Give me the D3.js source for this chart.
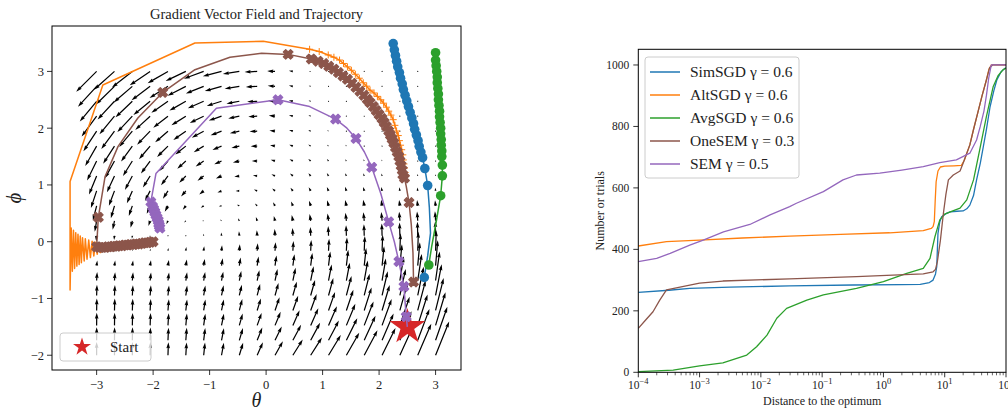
<!DOCTYPE html>
<html><head><meta charset="utf-8">
<script src="https://cdn.jsdelivr.net/npm/d3@7"></script>
<style>
body{margin:0;background:#fff;}
text{font-family:"Liberation Serif","DejaVu Serif",serif;fill:#222;}
</style>
</head><body>
<svg id="c" width="1008" height="410"></svg>
<script>
// ---------------- LEFT PANEL DATA ----------------
const thetaGrid = [-3,-2.684,-2.368,-2.053,-1.737,-1.421,-1.105,-0.789,-0.474,-0.158,0.158,0.474,0.789,1.105,1.421,1.737,2.053,2.368,2.684,3];
const phiGrid = [-2,-1.737,-1.474,-1.211,-0.947,-0.684,-0.421,-0.158,0.105,0.368,0.632,0.895,1.158,1.421,1.684,1.947,2.211,2.474,2.737,3];
const fieldParam = 2; // game gradient field parameter (optimum at theta=-2, phi=0)
function gradientField(t, p) {
  const s = 1 / (1 + Math.exp(t * p));
  return [-p * s, fieldParam / (1 + Math.exp(fieldParam * p)) + t * s];
}
const thetaTicks = [-3,-2,-1,0,1,2,3];
const phiTicks = [-2,-1,0,1,2,3];
const startPoint = [2.5, -1.5];

// trajectories: [theta, phi, marker?]
const simSGDTraj = [[2.80,-0.63,1],[2.86,-0.25,0],[2.91,0.15,0],[2.89,0.60,0],[2.86,0.99,1],[2.81,1.29,1],[2.77,1.48,1],[2.74,1.58,1],[2.71,1.68,1],[2.69,1.78,1],[2.66,1.88,1],[2.63,1.98,1],[2.61,2.08,1],[2.58,2.18,1],[2.55,2.28,1],[2.52,2.38,1],[2.49,2.48,1],[2.46,2.58,1],[2.43,2.68,1],[2.41,2.78,1],[2.38,2.88,1],[2.36,2.98,1],[2.33,3.08,1],[2.31,3.18,1],[2.29,3.28,1],[2.27,3.38,1],[2.25,3.49,1]];
const altSGDTraj = [[2.47,1.15,1],[2.46,1.22,1],[2.45,1.30,1],[2.44,1.37,1],[2.43,1.44,1],[2.42,1.53,1],[2.40,1.62,1],[2.38,1.70,1],[2.36,1.78,1],[2.34,1.87,1],[2.31,1.95,1],[2.28,2.05,1],[2.25,2.15,1],[2.21,2.23,1],[2.17,2.30,1],[2.13,2.37,1],[2.08,2.44,1],[2.03,2.50,1],[1.97,2.56,1],[1.91,2.62,1],[1.84,2.67,1],[1.78,2.74,1],[1.72,2.80,1],[1.65,2.88,1],[1.58,2.95,1],[1.51,3.02,1],[1.44,3.08,1],[1.37,3.14,1],[1.30,3.20,1],[1.20,3.25,1],[1.10,3.29,1],[0.94,3.35,1],[0.77,3.39,1],[-0.05,3.53,0],[-1.26,3.50,0],[-2.89,2.76,0],[-3.47,1.06,0],[-3.47,-0.85,0],[-3.45,0.24,0],[-3.43,-0.52,0],[-3.41,0.20,0],[-3.39,-0.47,0],[-3.37,0.16,0],[-3.35,-0.43,0],[-3.33,0.13,0],[-3.31,-0.40,0],[-3.29,0.10,0],[-3.27,-0.37,0],[-3.25,0.07,0],[-3.22,-0.34,0],[-3.20,0.05,0],[-3.17,-0.31,0],[-3.14,0.03,0],[-3.11,-0.28,0],[-3.08,0.01,0],[-3.05,-0.25,0],[-3.02,-0.01,0],[-2.99,-0.22,0],[-2.96,-0.03,0],[-2.93,-0.19,0],[-2.90,-0.05,0],[-2.87,-0.16,0]];
const avgSGDTraj = [[2.88,-0.41,1],[2.93,-0.09,0],[3.02,0.40,0],[3.09,0.81,1],[3.12,1.16,1],[3.12,1.35,1],[3.11,1.50,1],[3.11,1.60,1],[3.10,1.70,1],[3.10,1.80,1],[3.09,1.90,1],[3.09,2.00,1],[3.08,2.10,1],[3.07,2.20,1],[3.07,2.30,1],[3.06,2.40,1],[3.05,2.50,1],[3.05,2.60,1],[3.04,2.70,1],[3.03,2.80,1],[3.03,2.90,1],[3.02,3.00,1],[3.01,3.10,1],[3.00,3.20,1],[3.00,3.33,1]];
const oneSEMTraj = [[2.61,-0.71,1],[2.60,-0.20,0],[2.57,0.30,0],[2.53,0.69,1],[2.48,0.98,0],[2.45,1.12,1],[2.42,1.18,1],[2.41,1.26,1],[2.39,1.34,1],[2.37,1.42,1],[2.35,1.50,1],[2.32,1.58,1],[2.29,1.66,1],[2.26,1.74,1],[2.23,1.81,1],[2.20,1.88,1],[2.17,1.95,1],[2.13,2.03,1],[2.09,2.10,1],[2.05,2.17,1],[2.00,2.24,1],[1.95,2.31,1],[1.90,2.38,1],[1.84,2.45,1],[1.79,2.51,1],[1.73,2.58,1],[1.66,2.65,1],[1.59,2.72,1],[1.52,2.79,1],[1.44,2.86,1],[1.36,2.92,1],[1.28,2.98,1],[1.20,3.04,1],[1.11,3.09,1],[1.02,3.14,1],[0.92,3.18,1],[0.80,3.22,1],[0.39,3.30,1],[-0.08,3.32,0],[-0.64,3.25,0],[-1.26,3.03,0],[-1.83,2.63,1],[-2.27,2.18,0],[-2.62,1.68,0],[-2.85,1.15,0],[-2.97,0.43,1],[-3.00,-0.09,1],[-2.95,-0.10,1],[-2.90,-0.10,1],[-2.85,-0.10,1],[-2.80,-0.09,1],[-2.75,-0.09,1],[-2.70,-0.08,1],[-2.65,-0.08,1],[-2.60,-0.07,1],[-2.55,-0.07,1],[-2.50,-0.06,1],[-2.45,-0.06,1],[-2.40,-0.05,1],[-2.35,-0.05,1],[-2.30,-0.04,1],[-2.25,-0.04,1],[-2.20,-0.03,1],[-2.15,-0.02,1],[-2.10,-0.02,1],[-2.05,-0.01,1],[-2.00,0.00,1]];
const semTraj = [[2.50,-1.50,0],[2.48,-1.32,1],[2.44,-0.79,1],[2.35,-0.35,1],[2.27,0.0,0],[2.17,0.35,1],[2.03,0.85,0],[1.87,1.31,1],[1.74,1.58,0],[1.59,1.82,1],[1.42,2.01,0],[1.23,2.16,1],[0.77,2.38,0],[0.21,2.50,1],[-0.88,2.35,0],[-1.95,1.20,0],[-2.04,0.70,1],[-2.01,0.62,1],[-1.99,0.57,1],[-1.97,0.52,1],[-1.95,0.47,1],[-1.93,0.42,1],[-1.91,0.37,1],[-1.90,0.32,1],[-1.89,0.28,1],[-1.88,0.24,1]];

// ---------------- RIGHT PANEL DATA ----------------
// [log10(distance), number of trials]
const simSGDCurve = [[-4,260],[-3.5,267],[-3.16,273],[-2.5,277],[-1.53,281],[-0.5,284],[0.3,285],[0.6,286],[0.75,292],[0.81,300],[0.85,320],[0.87,344],[0.89,452],[0.92,490],[0.95,506],[1.02,516],[1.09,522],[1.2,524],[1.3,525],[1.36,532],[1.41,544],[1.47,575],[1.52,626],[1.58,680],[1.63,734],[1.68,790],[1.74,864],[1.80,915],[1.85,951],[1.92,978],[1.98,989],[2,990]];
const altSGDCurve = [[-4,411],[-3.54,425],[-3,430],[-2.3,437],[-1.53,443],[-0.7,449],[0.1,454],[0.65,461],[0.78,468],[0.81,474],[0.83,490],[0.845,560],[0.86,620],[0.89,655],[0.93,668],[1.0,671],[1.15,672],[1.27,673],[1.32,690],[1.41,740],[1.47,790],[1.54,845],[1.61,900],[1.68,951],[1.72,985],[1.76,1000],[2,1000]];
const avgSGDCurve = [[-4,2],[-3.43,7],[-3,21],[-2.62,31],[-2.23,56],[-2.07,83],[-1.9,121],[-1.74,176],[-1.58,208],[-1.25,235],[-0.98,252],[-0.44,273],[0,295],[0.38,322],[0.65,338],[0.76,371],[0.84,441],[0.92,496],[1.0,515],[1.09,522],[1.25,534],[1.36,561],[1.47,626],[1.57,723],[1.68,832],[1.79,929],[1.87,965],[1.95,984],[2,990]];
const oneSEMCurve = [[-4,143],[-3.88,170],[-3.76,197],[-3.65,235],[-3.54,268],[-3.32,277],[-3,290],[-2.62,297],[-1.53,304],[-0.44,311],[0.65,320],[0.81,327],[0.85,335],[0.88,360],[0.93,430],[0.98,520],[1.02,580],[1.06,626],[1.14,642],[1.25,655],[1.3,680],[1.41,740],[1.47,790],[1.54,845],[1.61,900],[1.68,951],[1.73,990],[1.78,1000],[2,1000]];
const semCurve = [[-4,360],[-3.7,371],[-3.48,387],[-3.16,414],[-2.94,430],[-2.61,457],[-2.18,481],[-1.85,512],[-1.53,539],[-1.42,550],[-0.98,588],[-0.66,626],[-0.44,642],[-0.06,648],[0.3,658],[0.65,669],[0.92,682],[1.19,691],[1.41,713],[1.52,756],[1.58,800],[1.64,850],[1.68,900],[1.72,960],[1.76,1000],[2,1000]];
const seriesNames = ["SimSGD","AltSGD","AvgSGD","OneSEM","SEM"];
const seriesGamma = ["0.6","0.6","0.6","0.3","0.5"];
const seriesColors = ["#1f77b4","#ff7f0e","#2ca02c","#8c564b","#9467bd"];
const countTicks = [0,200,400,600,800,1000];
const distExpTicks = [-4,-3,-2,-1,0,1,2];

// ---------------- DRAW ----------------
const svg = d3.select("#c");

// ===== Left panel =====
const L = {x0:52, x1:461, y0:26, y1:370};
const xL = d3.scaleLinear([-3.79, 3.45], [L.x0, L.x1]);
const yL = d3.scaleLinear([-2.26, 3.80], [L.y1, L.y0]);
svg.append("clipPath").attr("id","clipL").append("rect")
  .attr("x",L.x0).attr("y",L.y0).attr("width",L.x1-L.x0).attr("height",L.y1-L.y0);
const gL = svg.append("g").attr("clip-path","url(#clipL)");

// quiver
const vecs = [];
phiGrid.forEach(p => thetaGrid.forEach(t => { const [u,v] = gradientField(t,p); vecs.push({t,p,u,v,a:Math.hypot(u,v)}); }));
const axW = L.x1 - L.x0;
const amean = d3.mean(vecs, d => d.a);
const wq = 0.06 * axW / 20;
const kq = axW / (1.8 * amean * 20);
function arrowPath(x0, y0, dx, dy) {
  const len = Math.hypot(dx, dy) / wq;
  let pts;
  if (len < 1) pts = d3.range(6).map(k => [Math.cos(k*Math.PI/3)*0.5, Math.sin(k*Math.PI/3)*0.5]);
  else if (len < 5) { const s = len/5; pts = [[0,0.5],[0.5,0.5],[0,1.5],[5,0],[0,-1.5],[0.5,-0.5],[0,-0.5]].map(q=>[q[0]*s,q[1]*s]); }
  else pts = [[0,0.5],[len-4.5,0.5],[len-5,1.5],[len,0],[len-5,-1.5],[len-4.5,-0.5],[0,-0.5]];
  const ang = Math.atan2(dy, dx), c = Math.cos(ang), s = Math.sin(ang);
  return "M" + pts.map(([px,py]) => (x0 + wq*(px*c - py*s)).toFixed(2) + "," + (y0 + wq*(px*s + py*c)).toFixed(2)).join("L") + "Z";
}
gL.append("g").selectAll("path").data(vecs).join("path")
  .attr("d", d => arrowPath(xL(d.t), yL(d.p), d.u*kq, -d.v*kq))
  .attr("fill","#000");

// start star
gL.append("path").attr("d", d3.symbol(d3.symbolStar, 400)())
  .attr("transform", `translate(${xL(startPoint[0])},${yL(startPoint[1])})`)
  .attr("fill","#d62728");

// trajectories
const trajs = [
  {pts: simSGDTraj, color: seriesColors[0], m: "o"},
  {pts: altSGDTraj, color: seriesColors[1], m: "+"},
  {pts: avgSGDTraj, color: seriesColors[2], m: "o"},
  {pts: oneSEMTraj, color: seriesColors[3], m: "X"},
  {pts: semTraj, color: seriesColors[4], m: "X"},
];
const lineL = d3.line().x(d => xL(d[0])).y(d => yL(d[1]));
trajs.forEach(tr => {
  const g = gL.append("g");
  g.append("path").attr("d", lineL(tr.pts)).attr("fill","none").attr("stroke",tr.color).attr("stroke-width",1.5).attr("stroke-linejoin","round");
  const mk = tr.pts.filter(d => d[2]);
  if (tr.m === "o") {
    g.selectAll("circle").data(mk).join("circle").attr("cx",d=>xL(d[0])).attr("cy",d=>yL(d[1])).attr("r",4.8).attr("fill",tr.color);
  } else if (tr.m === "+") {
    g.selectAll("path.m").data(mk).join("path").attr("class","m")
      .attr("d", d => { const x=xL(d[0]), y=yL(d[1]); return `M${x-3.5},${y}H${x+3.5}M${x},${y-3.5}V${y+3.5}`; })
      .attr("stroke",tr.color).attr("stroke-width",1);
  } else {
    g.selectAll("path.m").data(mk).join("path").attr("class","m")
      .attr("d", d3.symbol(d3.symbolCross, 58)())
      .attr("transform", d => `translate(${xL(d[0])},${yL(d[1])}) rotate(45)`)
      .attr("fill",tr.color).attr("stroke",tr.color).attr("stroke-width",1.2).attr("stroke-linejoin","round");
  }
});

// frame + ticks
svg.append("rect").attr("x",L.x0).attr("y",L.y0).attr("width",L.x1-L.x0).attr("height",L.y1-L.y0)
  .attr("fill","none").attr("stroke","#000").attr("stroke-width",1);
const minus = v => (v < 0 ? "\u2212" + Math.abs(v) : String(v));
thetaTicks.forEach(t => {
  svg.append("line").attr("x1",xL(t)).attr("x2",xL(t)).attr("y1",L.y1).attr("y2",L.y1+5).attr("stroke","#000").attr("stroke-width",0.8);
  svg.append("text").attr("x",xL(t)).attr("y",L.y1+19).attr("text-anchor","middle").attr("font-size",12.5).text(minus(t));
});
phiTicks.forEach(p => {
  svg.append("line").attr("x1",L.x0-5).attr("x2",L.x0).attr("y1",yL(p)).attr("y2",yL(p)).attr("stroke","#000").attr("stroke-width",0.8);
  svg.append("text").attr("x",L.x0-8).attr("y",yL(p)+4.5).attr("text-anchor","end").attr("font-size",12.5).text(minus(p));
});
svg.append("text").attr("x",(L.x0+L.x1)/2).attr("y",19).attr("text-anchor","middle").attr("font-size",14.5).text("Gradient Vector Field and Trajectory");
svg.append("text").attr("x",(L.x0+L.x1)/2).attr("y",407).attr("text-anchor","middle").attr("font-size",20).attr("font-style","italic").text("θ");
svg.append("text").attr("transform",`translate(21,${(L.y0+L.y1)/2}) rotate(-90)`).attr("text-anchor","middle").attr("font-size",21).attr("font-style","italic").text("ϕ");

// left legend
svg.append("rect").attr("x",60).attr("y",333).attr("width",91).attr("height",28).attr("rx",3)
  .attr("fill","#fff").attr("fill-opacity",0.8).attr("stroke","#ccc");
svg.append("path").attr("d", d3.symbol(d3.symbolStar, 100)()).attr("transform","translate(82,347)").attr("fill","#d62728");
svg.append("text").attr("x",110).attr("y",352).attr("font-size",15).text("Start");

// ===== Right panel =====
const R = {x0:638.3, x1:1006, y0:49.3, y1:372.3};
const xR = d3.scaleLog([1e-4, 1e2], [R.x0, R.x1]);
const yR = d3.scaleLinear([0, 1051], [R.y1, R.y0]);
svg.append("clipPath").attr("id","clipR").append("rect")
  .attr("x",R.x0).attr("y",R.y0).attr("width",R.x1-R.x0).attr("height",R.y1-R.y0);
const gR = svg.append("g").attr("clip-path","url(#clipR)");
const curves = [simSGDCurve, altSGDCurve, avgSGDCurve, oneSEMCurve, semCurve];
const lineR = d3.line().x(d => xR(Math.pow(10, d[0]))).y(d => yR(d[1]));
curves.forEach((c, i) => {
  gR.append("path").attr("d", lineR(c)).attr("fill","none").attr("stroke",seriesColors[i]).attr("stroke-width",1.3).attr("stroke-linejoin","round");
});
svg.append("rect").attr("x",R.x0).attr("y",R.y0).attr("width",R.x1-R.x0).attr("height",R.y1-R.y0)
  .attr("fill","none").attr("stroke","#000").attr("stroke-width",1);
countTicks.forEach(v => {
  svg.append("line").attr("x1",R.x0-5).attr("x2",R.x0).attr("y1",yR(v)).attr("y2",yR(v)).attr("stroke","#000").attr("stroke-width",0.8);
  svg.append("text").attr("x",R.x0-9).attr("y",yR(v)+4).attr("text-anchor","end").attr("font-size",11.5).text(v);
});
distExpTicks.forEach(e => {
  const x = xR(Math.pow(10,e));
  svg.append("line").attr("x1",x).attr("x2",x).attr("y1",R.y1).attr("y2",R.y1+5).attr("stroke","#000").attr("stroke-width",0.8);
  const t = svg.append("text").attr("x",x).attr("y",R.y1+17).attr("text-anchor","middle").attr("font-size",11.5);
  t.append("tspan").text("10");
  t.append("tspan").attr("dy",-5).attr("font-size",8.5).text(e < 0 ? "\u2212" + Math.abs(e) : String(e));
  if (e < 2) for (let k = 2; k <= 9; k++) {
    const xm = xR(k * Math.pow(10,e));
    svg.append("line").attr("x1",xm).attr("x2",xm).attr("y1",R.y1).attr("y2",R.y1+3).attr("stroke","#000").attr("stroke-width",0.6);
  }
});
svg.append("text").attr("x",(R.x0+R.x1)/2).attr("y",405).attr("text-anchor","middle").attr("font-size",12).text("Distance to the optimum");
svg.append("text").attr("transform",`translate(604,${(R.y0+R.y1)/2}) rotate(-90)`).attr("text-anchor","middle").attr("font-size",12).text("Number or trials");

// right legend
svg.append("rect").attr("x",645).attr("y",57).attr("width",154).attr("height",121).attr("rx",3)
  .attr("fill","#fff").attr("fill-opacity",0.8).attr("stroke","#ccc");
seriesNames.forEach((n, i) => {
  const y = 72 + i * 23;
  svg.append("line").attr("x1",650).attr("x2",680).attr("y1",y).attr("y2",y).attr("stroke",seriesColors[i]).attr("stroke-width",1.5);
  const t = svg.append("text").attr("x",690).attr("y",y+5).attr("font-size",15.5);
  t.append("tspan").text(n + " ");
  t.append("tspan").text("γ");
  t.append("tspan").text(" = " + seriesGamma[i]);
});
</script>
</body></html>
